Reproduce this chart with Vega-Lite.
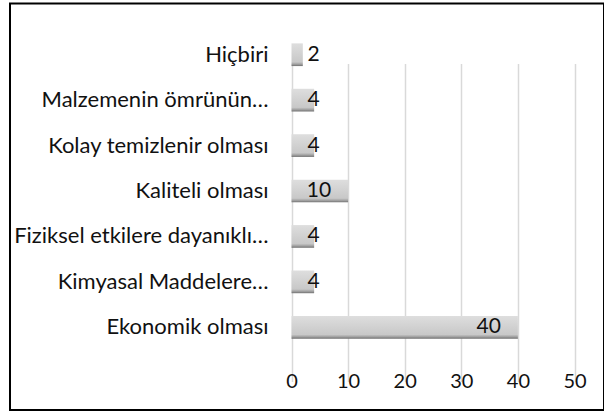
{
  "$schema": "https://vega.github.io/schema/vega-lite/v6.json",
  "autosize": {"type": "none"},
  "padding": {"left": 10, "top": 3.5, "right": 0, "bottom": 2},
  "width": 594,
  "height": 406.5,
  "background": "white",
  "config": {"view": {"stroke": "#000", "strokeWidth": 2}, "font": "Lato"},
  "data": {"values": [
    {"label": "Hiçbiri", "value": 2},
    {"label": "Malzemenin ömrünün…", "value": 4},
    {"label": "Kolay temizlenir olması", "value": 4},
    {"label": "Kaliteli olması", "value": 10},
    {"label": "Fiziksel etkilere dayanıklı…", "value": 4},
    {"label": "Kimyasal Maddelere…", "value": 4},
    {"label": "Ekonomik olması", "value": 40}
  ]},
  "encoding": {
    "y": {
      "field": "label", "type": "nominal", "sort": null,
      "scale": {"range": [28.5, 346.5], "paddingInner": 0.5, "paddingOuter": 0.25},
      "axis": {"title": null, "domain": false, "ticks": false, "grid": false, "offset": -258, "labelPadding": 0, "labelFontSize": 22, "labelColor": "#111", "labelLimit": 0}
    }
  },
  "layer": [
    {
      "mark": {"type": "bar", "color": {"gradient": "linear", "x1": 0, "y1": 0, "x2": 0, "y2": 1, "stops": [
        {"offset": 0, "color": "#dedede"},
        {"offset": 0.82, "color": "#c8c8c8"},
        {"offset": 0.92, "color": "#a0a0a0"},
        {"offset": 1, "color": "#707070"}
      ]}},
      "encoding": {
        "x": {
          "field": "value", "type": "quantitative",
          "scale": {"domain": [0, 50], "range": [281.5, 564.5]},
          "axis": {"title": null, "values": [0, 10, 20, 30, 40, 50], "domain": false, "ticks": false, "grid": true, "gridColor": "#d9d9d9", "gridWidth": 1.5, "labelFontSize": 20, "labelColor": "#111", "labelPadding": 0, "labelBaseline": "middle", "labelFlush": false, "offset": -29}
        }
      }
    },
    {
      "transform": [{"filter": "datum.value >= 10"}],
      "mark": {"type": "text", "align": "right", "baseline": "middle", "dx": -17, "fontSize": 21, "color": "#111"},
      "encoding": {
        "x": {"field": "value", "type": "quantitative"},
        "text": {"field": "value", "type": "quantitative"}
      }
    },
    {
      "transform": [{"filter": "datum.value < 10"}],
      "mark": {"type": "text", "align": "left", "baseline": "middle", "dx": 16, "fontSize": 21, "color": "#111"},
      "encoding": {
        "x": {"datum": 0, "type": "quantitative"},
        "text": {"field": "value", "type": "quantitative"}
      }
    }
  ]
}
